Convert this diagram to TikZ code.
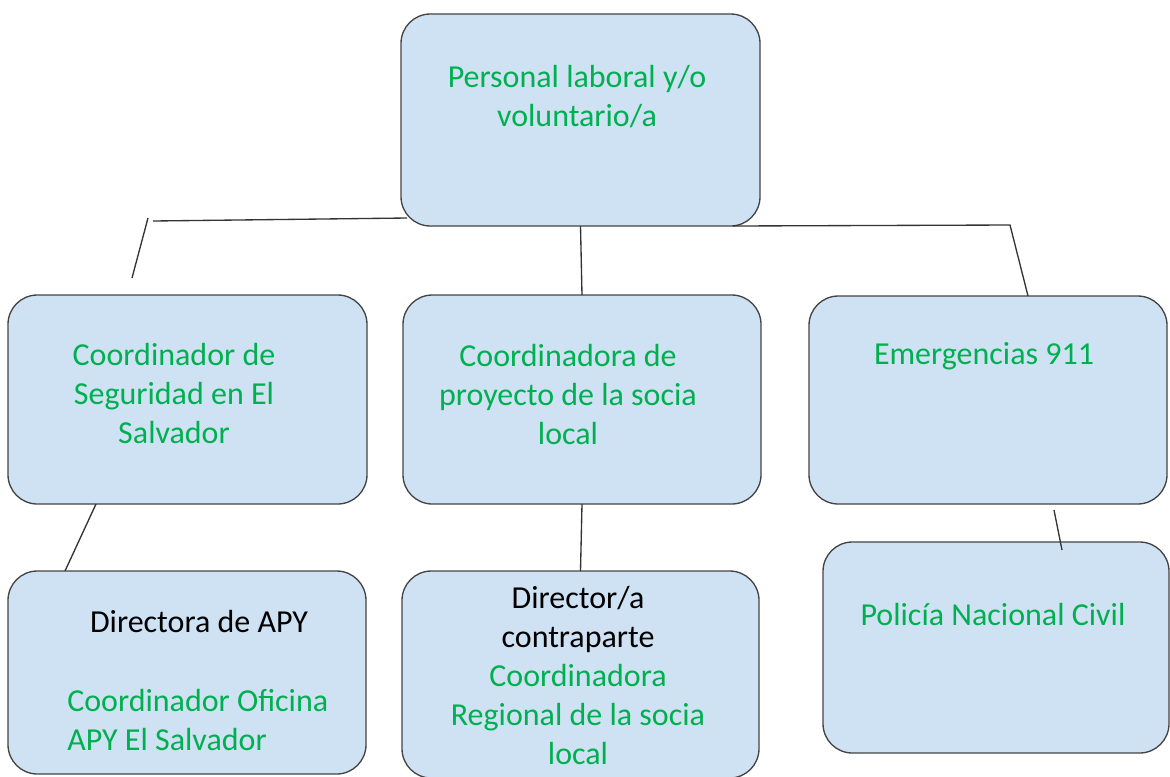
\documentclass[tikz,border=0pt]{standalone}
\usepackage{fontspec}
\setmainfont{Carlito}
\usepackage{xcolor}
\usepackage{tikz}
\usetikzlibrary{positioning,calc}

\definecolor{boxblue}{HTML}{CFE2F3}
\definecolor{lblgreen}{HTML}{00B050}
\definecolor{boxline}{HTML}{444444}

\begin{document}
\begin{tikzpicture}[x=0.75pt,y=-0.75pt,
		box/.style={draw=boxline,fill=boxblue,line width=1pt,rounded corners=22pt,inner sep=0pt,outer sep=0pt},
		lbl/.style={text=lblgreen,font=\fontsize{24}{29.25}\selectfont,align=center,anchor=base,inner sep=0pt},
		link/.style={draw=black!80,line width=1pt}]
			\useasboundingbox (0,0) rectangle (1170,776);
			
			\node[box,minimum width=269.25pt,minimum height=159pt] (personal) at (580.5,120) {};
			\node[box,minimum width=269.25pt,minimum height=156.75pt] (coord) at (187.5,399.5) {};
			\node[box,minimum width=268.5pt,minimum height=156.75pt] (proyecto) at (582,399.5) {};
			\node[box,minimum width=268.5pt,minimum height=156pt] (emerg) at (988,400) {};
			\node[box,minimum width=268.5pt,minimum height=152.25pt] (directora) at (187,672.5) {};
			\node[box,minimum width=267.75pt,minimum height=155.25pt] (director) at (580.5,674.5) {};
			\node[box,minimum width=259.5pt,minimum height=158.25pt] (policia) at (996,647.5) {};
			
			% base = last line of each label
			\node[lbl] (tpersonal) at (577,126) {Personal laboral y/o\\voluntario/a};
			\node[lbl] (tcoord) at (174,443) {Coordinador de\\Seguridad en El\\Salvador};
			\node[lbl] (tproyecto) at (568,444) {Coordinadora de\\proyecto de la socia\\local};
			\node[lbl] (temerg) at (984,364) {Emergencias 911};
			\node[lbl,text=black] (tdirectora) at (199,632) {Directora de APY};
			\node[lbl,align=left,anchor=base west] (toficina) at (67,750) {Coordinador Oficina\\APY El Salvador};
			\node[lbl] (tdirector) at (578,764) {\textcolor{black}{Director/a}\\\textcolor{black}{contraparte}\\Coordinadora\\Regional de la socia\\local};
			\node[lbl] (tpolicia) at (993,625) {Policía Nacional Civil};
			
			\coordinate (lbend) at (153,221);
			\coordinate (ltop) at (148,218);
			\coordinate (lfree) at (132,278);
			\coordinate (rbend) at (1010,225);
			
			\draw[link] ($(personal.south west)+(6,-8)$) -- (lbend);
			\draw[link] (ltop) -- (lfree);
			\draw[link] (personal.south) -- (proyecto.north);
			\draw[link] ($(personal.south east)+(-27,0)$) -- (rbend) -- ($(emerg.north west)+(219,0)$);
			\draw[link] ($(coord.south west)+(88,0)$) -- ($(directora.north west)+(57,0)$);
			\draw[link] (proyecto.south) -- (director.north);
			\draw[link] ($(emerg.south west)+(245,6)$) -- ($(policia.north west)+(239,8)$);
		\end{tikzpicture}
\end{document}
